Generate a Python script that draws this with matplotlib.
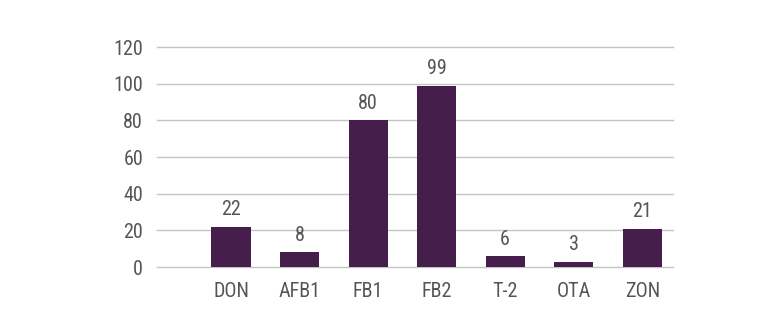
import matplotlib
matplotlib.use("Agg")
import matplotlib.pyplot as plt
from matplotlib import font_manager

categories = ["DON", "AFB1", "FB1", "FB2", "T-2", "OTA", "ZON"]
values = [22, 8, 80, 99, 6, 3, 21]
yticks = [0, 20, 40, 60, 80, 100, 120]

# condensed face if one is around
fonts = font_manager.fontManager.ttflist
names = {f.name for f in fonts}
fam, stretch = "DejaVu Sans", "normal"
for cand in ["Roboto Condensed", "Open Sans Condensed", "Liberation Sans Narrow",
             "Noto Sans Condensed", "DejaVu Sans Condensed"]:
    if cand in names:
        fam = cand
        break
else:
    if any(f.name == "DejaVu Sans" and f.stretch == "condensed" for f in fonts):
        stretch = "condensed"
plt.rcParams["font.family"] = [fam, "DejaVu Sans"]
plt.rcParams["font.stretch"] = stretch

fig = plt.figure(figsize=(7.68, 3.2), dpi=100)
ax = fig.add_axes([0.2044, 0.1656, 0.672, 0.6875])
ax.set_xlim(-1.08, 6.45)
ax.set_ylim(0, 120)

for y in yticks:
    ax.axhline(y, color="#c4c4c4", lw=1.0, zorder=0, clip_on=False)

x = range(len(categories))
ax.bar(x, values, width=0.57, color="#461e4b", zorder=2)
for xi, v in zip(x, values):
    ax.text(xi, v + 4, str(v), ha="center", va="bottom", fontsize=14.5, color="#555555")

ax.set_yticks(yticks)
ax.set_yticklabels([str(t) for t in yticks], fontsize=14.5, color="#555555")
ax.set_xticks(list(x))
ax.set_xticklabels(categories, fontsize=14.5, color="#555555")
ax.tick_params(axis="both", length=0)
ax.tick_params(axis="y", pad=10)
ax.tick_params(axis="x", pad=11)
for s in ax.spines.values():
    s.set_visible(False)

fig.savefig("out.png", dpi=100)
